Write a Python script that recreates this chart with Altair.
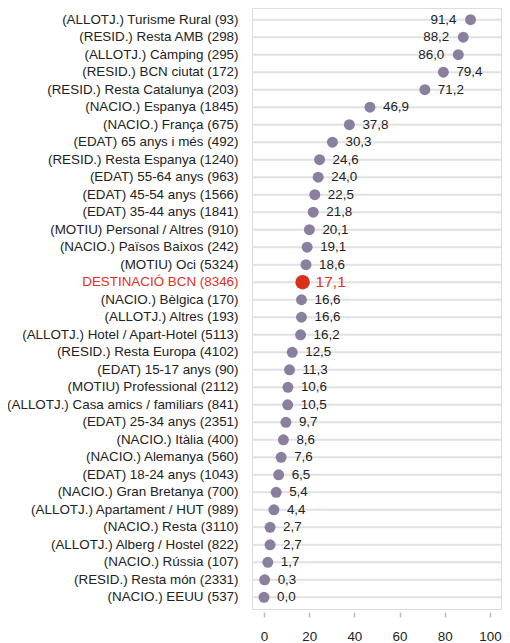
import altair as alt
import pandas as pd

categories = [
    "(ALLOTJ.) Turisme Rural (93)",
    "(RESID.) Resta AMB (298)",
    "(ALLOTJ.) Càmping (295)",
    "(RESID.) BCN ciutat (172)",
    "(RESID.) Resta Catalunya (203)",
    "(NACIO.) Espanya (1845)",
    "(NACIO.) França (675)",
    "(EDAT) 65 anys i més (492)",
    "(RESID.) Resta Espanya (1240)",
    "(EDAT) 55-64 anys (963)",
    "(EDAT) 45-54 anys (1566)",
    "(EDAT) 35-44 anys (1841)",
    "(MOTIU) Personal / Altres (910)",
    "(NACIO.) Països Baixos (242)",
    "(MOTIU) Oci (5324)",
    "DESTINACIÓ BCN (8346)",
    "(NACIO.) Bèlgica (170)",
    "(ALLOTJ.) Altres (193)",
    "(ALLOTJ.) Hotel / Apart-Hotel (5113)",
    "(RESID.) Resta Europa (4102)",
    "(EDAT) 15-17 anys (90)",
    "(MOTIU) Professional (2112)",
    "(ALLOTJ.) Casa amics / familiars (841)",
    "(EDAT) 25-34 anys (2351)",
    "(NACIO.) Itàlia (400)",
    "(NACIO.) Alemanya (560)",
    "(EDAT) 18-24 anys (1043)",
    "(NACIO.) Gran Bretanya (700)",
    "(ALLOTJ.) Apartament / HUT (989)",
    "(NACIO.) Resta (3110)",
    "(ALLOTJ.) Alberg / Hostel (822)",
    "(NACIO.) Rússia (107)",
    "(RESID.) Resta món (2331)",
    "(NACIO.) EEUU (537)",
]
values = [91.4, 88.2, 86.0, 79.4, 71.2, 46.9, 37.8, 30.3, 24.6, 24.0, 22.5, 21.8,
          20.1, 19.1, 18.6, 17.1, 16.6, 16.6, 16.2, 12.5, 11.3, 10.6, 10.5, 9.7,
          8.6, 7.6, 6.5, 5.4, 4.4, 2.7, 2.7, 1.7, 0.3, 0.0]
highlight = "DESTINACIÓ BCN (8346)"
left_labelled = ["(ALLOTJ.) Turisme Rural (93)", "(RESID.) Resta AMB (298)", "(ALLOTJ.) Càmping (295)"]
x_ticks = [0, 20, 40, 60, 80, 100]

df = pd.DataFrame({"cat": categories, "val": values})
df["txt"] = df["val"].map(lambda v: f"{v:.1f}".replace(".", ","))
df["hl"] = df["cat"] == highlight
df["left"] = df["cat"].isin(left_labelled)

FONT = "Liberation Sans"
FS = 13.4
W, H = 249, 601

y_enc = alt.Y("cat:N", sort=categories, title=None,
              scale=alt.Scale(paddingOuter=0.17, paddingInner=0),
              axis=alt.Axis(ticks=False, domain=False, grid=False, labelPadding=14,
                            labelLimit=400, labelFontSize=FS, labelFont=FONT,
                            labelColor=alt.condition(alt.datum.value == highlight,
                                                     alt.value("#e0301e"), alt.value("#222222"))))
x_scale = alt.Scale(domain=[-5.3, 104.9], nice=False, zero=False)
x_enc = alt.X("val:Q", scale=x_scale, title=None,
              axis=alt.Axis(values=x_ticks, grid=False, domain=False, offset=3, tickSize=5,
                            tickColor="#bbbbbb", tickWidth=1.5, labelPadding=12, labelFontSize=FS,
                            labelFont=FONT, labelColor="#222222"))

base = alt.Chart(df)

grid = base.mark_rule(color="#e1e1e1", strokeWidth=2).encode(
    y=y_enc, x=alt.value(0), x2=alt.value(W))

pts = base.transform_filter(~alt.datum.hl).mark_circle(size=120, color="#8b7f9f", opacity=1).encode(
    x=x_enc, y=y_enc)
pt_hl = base.transform_filter(alt.datum.hl).mark_circle(size=210, color="#d9301c", opacity=1).encode(
    x=x_enc, y=y_enc)

txt_r = base.transform_filter((~alt.datum.left) & (~alt.datum.hl)).mark_text(
    align="left", baseline="middle", dx=13, fontSize=FS, font=FONT, color="#222222").encode(
    x=x_enc, y=y_enc, text="txt:N")
txt_l = base.transform_filter(alt.datum.left).mark_text(
    align="right", baseline="middle", dx=-14, fontSize=FS, font=FONT, color="#222222").encode(
    x=x_enc, y=y_enc, text="txt:N")
txt_hl = base.transform_filter(alt.datum.hl).mark_text(
    align="left", baseline="middle", dx=13, fontSize=15.5, font=FONT, color="#e0301e").encode(
    x=x_enc, y=y_enc, text="txt:N")

chart = alt.layer(grid, pts, pt_hl, txt_r, txt_l, txt_hl).properties(
    width=W, height=H,
    autosize=alt.AutoSizeParams(type="none"),
    padding={"left": 244, "top": 0, "right": 1, "bottom": 33},
).configure_view(stroke="#cccccc", strokeWidth=2).configure(background="white")

chart.save("out.html", embed_options={"renderer": "svg", "actions": False})
